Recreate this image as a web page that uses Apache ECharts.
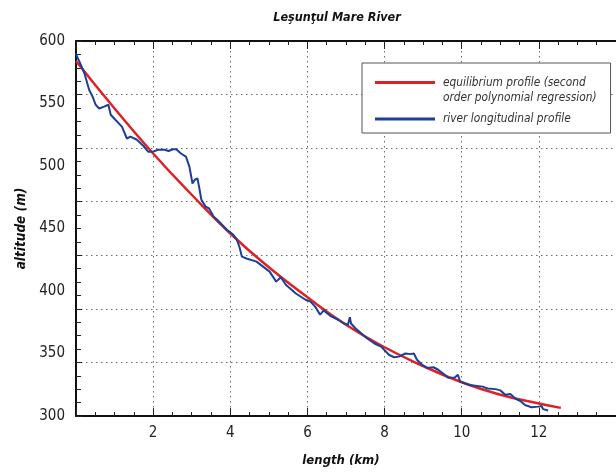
<!DOCTYPE html>
<html>
<head>
<meta charset="utf-8">
<script src="https://cdn.jsdelivr.net/npm/echarts@6/dist/echarts.min.js"></script>
<style>
  html, body { margin: 0; padding: 0; background: #fff; }
  #chart { width: 616px; height: 474px; }
</style>
</head>
<body>
<div id="chart"></div>
<script>
  // equilibrium profile (second order polynomial regression)
  var fitKm  = [0, 1, 2, 3, 4, 5, 6, 7, 8, 9, 10, 11, 12, 12.57];
  var fitAlt = [584, 546, 510, 477, 446, 419, 395, 373, 355, 340, 327, 317, 310, 306.5];

  // river longitudinal profile
  var riverKm = [
    0.00, 0.05, 0.09, 0.22, 0.34, 0.43, 0.51, 0.60, 0.73, 0.84, 0.90, 1.02, 1.19, 1.32, 1.41,
    1.58, 1.75, 1.87, 2.00, 2.13, 2.30, 2.40, 2.51, 2.60, 2.72, 2.85, 2.94, 3.02, 3.08, 3.15,
    3.19, 3.25, 3.36, 3.45, 3.57, 3.66, 3.91, 4.08, 4.17, 4.24, 4.30, 4.42, 4.68, 4.85, 5.02,
    5.19, 5.31, 5.44, 5.70, 5.95, 6.08, 6.20, 6.33, 6.42, 6.60, 6.80, 6.95, 7.05, 7.10, 7.13,
    7.25, 7.40, 7.55, 7.74, 7.91, 8.12, 8.25, 8.37, 8.54, 8.67, 8.76, 8.84, 8.97, 9.10, 9.27,
    9.39, 9.56, 9.65, 9.82, 9.90, 9.96, 10.20, 10.54, 10.67, 10.88, 11.00, 11.13, 11.26, 11.39,
    11.52, 11.64, 11.81, 11.99, 12.07, 12.11, 12.24
  ];
  var riverAlt = [
    590, 586, 583.5, 574, 561, 555.5, 549, 546, 547.5, 549, 541, 537, 531.5, 522, 523.5,
    521, 516, 511.5, 511.5, 513, 513, 512, 513.4, 513.4, 510, 507.5, 499.5, 486, 489, 490,
    483.5, 473, 467.5, 466, 459.5, 457, 449, 445, 441, 435, 427.5, 426, 423.5, 419.5, 415.5,
    407.5, 411, 405, 398, 393, 391.5, 387.5, 381, 384.5, 380, 377, 374, 373, 379, 374,
    370, 366, 362, 358, 355.5, 348.8, 347, 347.5, 350, 349.5, 350, 345, 341, 338.5, 339,
    337, 333, 330.5, 330.8, 333, 327.5, 324.8, 323.5, 322, 321.5, 320.5, 317, 317.6, 314,
    312, 308.8, 307, 307.5, 308, 305.5, 304.4
  ];

  var xTickLabels = [2, 4, 6, 8, 10, 12];
  var yTickLabels = [300, 350, 400, 450, 500, 550, 600];

  var FONT = "'Liberation Sans Narrow', 'DejaVu Sans Condensed', 'Liberation Sans', sans-serif";

  function zip(a, b) {
    var out = [];
    for (var i = 0; i < a.length; i++) out.push([a[i], b[i]]);
    return out;
  }

  var myChart = echarts.init(document.getElementById('chart'), null, { renderer: 'canvas' });

  var dotted = { color: '#6a6a6a', width: 1, type: [1.5, 3.5] };
  var blackLine = { show: true, lineStyle: { color: '#111', width: 2 } };

  var option = {
    backgroundColor: '#fff',
    animation: false,
    title: {
      text: 'Leşunţul Mare River',
      left: 332,
      top: 6,
      textAlign: 'center',
      textStyle: { fontFamily: FONT, fontSize: 12.5, fontWeight: 'bold', fontStyle: 'italic', color: '#111' }
    },
    legend: {
      orient: 'vertical',
      left: 362,
      top: 63,
      padding: [12, 14, 4, 13],
      itemGap: 4,
      itemWidth: 63,
      itemHeight: 20,
      borderColor: '#555',
      borderWidth: 1,
      backgroundColor: '#fff',
      textStyle: { fontFamily: FONT, fontSize: 11.8, lineHeight: 15, fontStyle: 'italic', color: '#333' },
      data: [
        { name: 'equilibrium profile (second\norder polynomial regression)',
          icon: 'path://M0,0h0.05v0.05h-0.05z M0,1h60v3h-60z M62.95,19.95h0.05v0.05h-0.05z' },
        { name: 'river longitudinal profile',
          icon: 'path://M0,0h0.05v0.05h-0.05z M0,8.5h60v3h-60z M62.95,19.95h0.05v0.05h-0.05z' }
      ]
    },
    grid: { left: 76, right: -10, top: 41, bottom: 58, containLabel: false },
    xAxis: [
      {
        type: 'value', min: 0, max: 14, interval: 2, position: 'bottom',
        name: 'length (km)', nameLocation: 'middle', nameGap: 38,
        nameTextStyle: { fontFamily: FONT, fontSize: 13, fontWeight: 'bold', fontStyle: 'italic', color: '#111', padding: [0, 10, 0, 0] },
        axisLine: blackLine,
        axisTick: { show: true, inside: true, length: 8, lineStyle: { color: '#222', width: 1 } },
        minorTick: { show: true, splitNumber: 4, length: 4, lineStyle: { color: '#222', width: 1 } },
        splitLine: { show: true, lineStyle: dotted },
        axisLabel: {
          show: true, margin: 10, fontFamily: FONT, fontSize: 15, color: '#222',
          showMinLabel: false, showMaxLabel: false,
          formatter: function (v) { return xTickLabels.indexOf(v) >= 0 ? String(v) : ''; }
        }
      },
      {
        type: 'value', min: 0, max: 14, interval: 2, position: 'top',
        axisLine: blackLine,
        axisTick: { show: true, inside: true, length: 8, lineStyle: { color: '#222', width: 1 } },
        minorTick: { show: true, splitNumber: 4, length: 4, lineStyle: { color: '#222', width: 1 } },
        splitLine: { show: false },
        axisLabel: { show: false }
      }
    ],
    yAxis: [
      {
        // frame grid: the plotted figure divides the height into 7 dotted bands
        type: 'value', min: 0, max: 7, interval: 1, position: 'left',
        axisLine: blackLine,
        axisTick: { show: true, inside: true, length: 6, lineStyle: { color: '#222', width: 1 } },
        minorTick: { show: true, splitNumber: 4, length: 5, lineStyle: { color: '#222', width: 1 } },
        splitLine: { show: true, lineStyle: dotted },
        axisLabel: { show: false }
      },
      {
        type: 'value', min: 300, max: 600, interval: 50, position: 'left',
        name: 'altitude (m)', nameLocation: 'middle', nameGap: 46, nameRotate: 90,
        nameTextStyle: { fontFamily: FONT, fontSize: 13.5, fontWeight: 'bold', fontStyle: 'italic', color: '#111' },
        axisLine: { show: false },
        axisTick: { show: false },
        splitLine: { show: false },
        axisLabel: {
          show: true, margin: 11, fontFamily: FONT, fontSize: 15, color: '#222',
          formatter: function (v) { return yTickLabels.indexOf(v) >= 0 ? String(v) : ''; }
        }
      }
    ],
    series: [
      {
        name: 'equilibrium profile (second\norder polynomial regression)',
        type: 'line',
        xAxisIndex: 0, yAxisIndex: 1,
        data: zip(fitKm, fitAlt),
        smooth: true,
        showSymbol: false,
        z: 3,
        lineStyle: { color: '#dd2127', width: 2.5 },
        itemStyle: { color: '#dd2127' }
      },
      {
        name: 'river longitudinal profile',
        type: 'line',
        xAxisIndex: 0, yAxisIndex: 1,
        data: zip(riverKm, riverAlt),
        showSymbol: false,
        z: 4,
        lineStyle: { color: '#1c3f97', width: 2 },
        itemStyle: { color: '#1c3f97' }
      }
    ]
  };

  option && myChart.setOption(option);
</script>
</body>
</html>
